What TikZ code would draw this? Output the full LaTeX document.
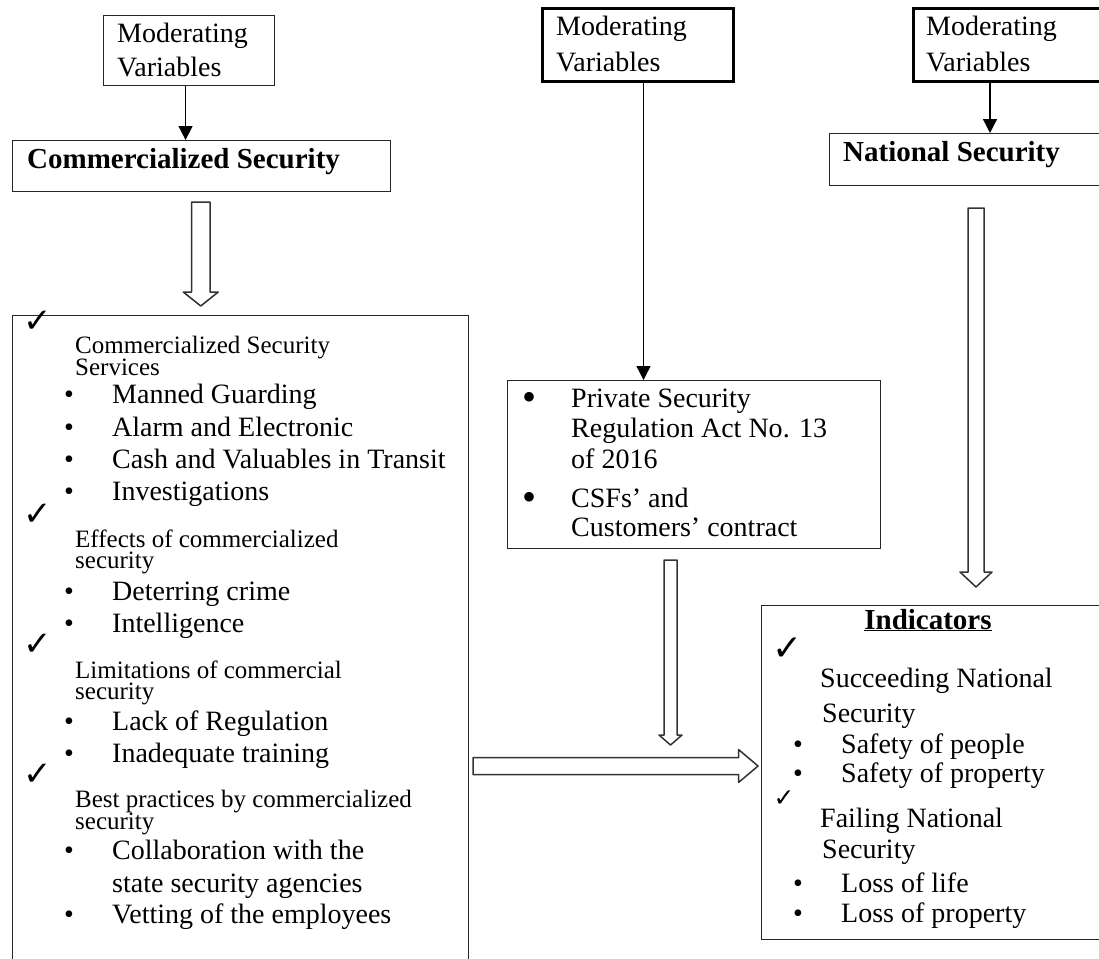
\documentclass[tikz,border=0pt]{standalone}
\usepackage{fontspec}
\setmainfont{Liberation Serif}
\newfontfamily\checkfont{DejaVu Sans}
\usetikzlibrary{arrows.meta}

\tikzset{
  thinbox/.style={draw=black!85, line width=1.1pt, inner sep=0pt},
  thickbox/.style={draw=black, line width=3pt, inner sep=0pt},
  txt/.style={anchor=base west, inner sep=0pt, font=\fontsize{28}{28}\selectfont},
  subhead/.style={txt, font=\fontsize{25}{25}\selectfont},
  title/.style={txt, font=\fontsize{29}{29}\selectfont\bfseries},
  bul/.style={anchor=base, inner sep=0pt, font=\fontsize{28}{28}\selectfont},
  bigbul/.style={anchor=base, inner sep=0pt, font=\fontsize{40}{40}\selectfont},
  tick/.style={inner sep=0pt, font=\checkfont\fontsize{34}{34}\selectfont},
  link/.style={line width=1.4pt, -{Triangle[length=14pt,width=14pt]}},
  hollow/.style={draw=black!80, line width=1.5pt, fill=white, line join=round},
}

\begin{document}
\begin{tikzpicture}[x=1pt,y=-1pt]
  \clip (0,0) rectangle (1099,958);
  \fill[white] (0,0) rectangle (1099,958);

  % moderating variables
  \node[thinbox, anchor=north west, minimum width=171pt, minimum height=70pt] (mv1) at (103,15) {};
  \node[thickbox, anchor=north west, minimum width=191pt, minimum height=73pt] (mv2) at (541,7) {};
  \node[thickbox, anchor=north west, minimum width=220pt, minimum height=73pt] (mv3) at (912,7) {};
  \foreach \n/\x/\ya/\yb in {1/117/42/77, 2/556/36/71, 3/926/36/71}
  {
    \node[txt] (mvt\n a) at (\x,\ya) {Moderating};
    \node[txt] (mvt\n b) at (\x,\yb) {Variables};
  }

  % main boxes
  \node[thinbox, anchor=north west, minimum width=378pt, minimum height=51pt] (cs) at (12,140) {};
  \node[title] (cst) at (27,168) {Commercialized Security};
  \node[thinbox, anchor=north west, minimum width=300pt, minimum height=52pt] (ns) at (829,133) {};
  \node[title] (nst) at (843,161) {National Security};
  \node[thinbox, anchor=north west, minimum width=456pt, minimum height=700pt] (svc) at (12,315) {};
  \node[thinbox, anchor=north west, minimum width=373pt, minimum height=168pt] (csf) at (507,380) {};
  \node[thinbox, anchor=north west, minimum width=360pt, minimum height=334pt] (ind) at (761,605) {};

  % thin arrows
  \draw[link] ([xshift=-3.5pt]mv1.south) -- ([xshift=-3.5pt]mv1.south |- cs.north);
  \draw[link] ([xshift=5.5pt]mv2.south) -- ([xshift=5.5pt]mv2.south |- csf.north);
  \draw[link] ([xshift=78pt]mv3.south west) -- ([xshift=78pt]mv3.south west |- ns.north);

  % hollow arrows
  \foreach \cx/\sw/\ya/\hs/\hw/\tp in {200.75/9.25/202/292/17.5/306, 670.5/6.5/560/735/11.5/745, 976/8/208/572/16/587}
  {
    \draw[hollow] ({\cx-\sw},\ya) -- ({\cx-\sw},\hs) -- ({\cx-\hw},\hs) -- (\cx,\tp)
      -- ({\cx+\hw},\hs) -- ({\cx+\sw},\hs) -- ({\cx+\sw},\ya) -- cycle;
  }
  \draw[hollow] (473,757.5) -- (738.5,757.5) -- (738.5,749.5) -- (758,766) -- (738.5,782.5)
    -- (738.5,774.5) -- (473,774.5) -- cycle;

  % commercialized security list
  \foreach \i/\y in {1/322, 2/515, 3/645, 4/775}
    \node[tick] (lt\i) at (38,\y) {✓};
  \foreach \i/\y/\t in {1/353/Commercialized Security, 2/375/Services,
      3/547/Effects of commercialized, 4/568/security,
      5/678/Limitations of commercial, 6/699/security,
      7/807/Best practices by commercialized, 8/829/security}
    \node[subhead] (lh\i) at (75,\y) {\t};
  \foreach \i/\y/\t in {1/403/Manned Guarding, 2/436/Alarm and Electronic,
      3/468/Cash and Valuables in Transit, 4/500/Investigations,
      5/600/Deterring crime, 6/632/Intelligence,
      7/730/Lack of Regulation, 8/762/Inadequate training,
      9/859/Collaboration with the, 10/923/Vetting of the employees}
  {
    \node[bul] (lb\i) at (69,\y) {•};
    \node[txt] (li\i) at (112,\y) {\t};
  }
  \node[txt] (li9b) at (112,892) {state security agencies};

  % regulation box
  \node[bigbul] (rb1) at (529,410) {•};
  \node[bigbul] (rb2) at (529,510) {•};
  \foreach \i/\y/\t in {1/407/Private Security, 2/437/Regulation Act No. 13, 3/468/of 2016,
      4/507/CSFs’ and, 5/536/Customers’ contract}
    \node[txt] (rt\i) at (571,\y) {\t};

  % indicators box
  \node[title, anchor=base] (indt) at (928,629) {\underline{Indicators}};
  \node[tick, font=\checkfont\fontsize{36}{36}\selectfont] (it1) at (788,649) {✓};
  \node[tick, font=\checkfont\fontsize{25}{25}\selectfont] (it2) at (784,799) {✓};
  \foreach \i/\x/\y/\t in {1/820/687/Succeeding National, 2/822/722/Security,
      3/820/827/Failing National, 4/822/858/Security}
    \node[txt] (ih\i) at (\x,\y) {\t};
  \foreach \i/\y/\t in {1/753/Safety of people, 2/782/Safety of property,
      3/892/Loss of life, 4/922/Loss of property}
  {
    \node[bul] (ib\i) at (798,\y) {•};
    \node[txt] (ii\i) at (841,\y) {\t};
  }
\end{tikzpicture}
\end{document}
